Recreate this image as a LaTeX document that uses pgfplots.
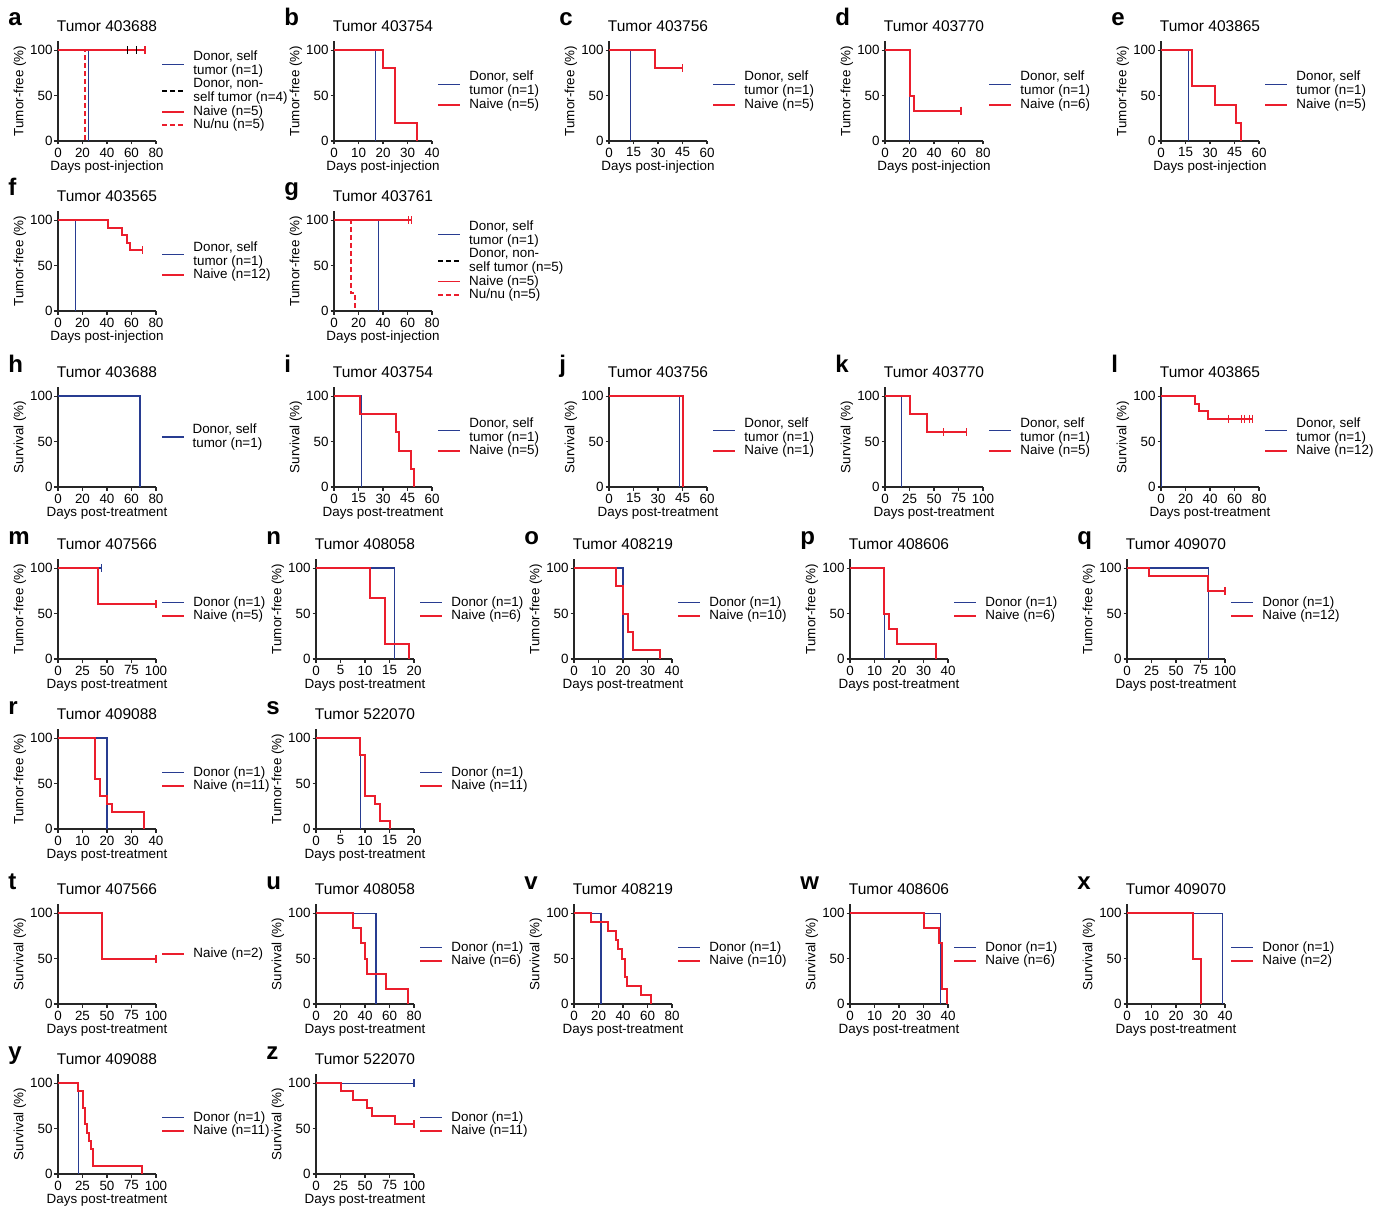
\documentclass[border=0pt]{standalone}
\usepackage{fontspec}
\setmainfont{Liberation Sans}
\usepackage{pgfplots}
\pgfplotsset{compat=1.18}
\definecolor{kb}{RGB}{40,60,145}
\definecolor{kr}{RGB}{235,30,45}
\newcommand\tf{\fontsize{6.7}{7}\selectfont}
\newcommand\ttf{\fontsize{7.75}{8}\selectfont}
\newcommand\lf{\fontsize{12}{12}\selectfont\bfseries}
\newcommand\ls{\rule[-1.9pt]{0pt}{7pt}}
\tikzset{lab/.style={anchor=base west, font=\lf, inner sep=0pt}}
\pgfplotsset{
 km/.style={
  scale only axis, width=49pt, height=50pt,
  xmin=0, ymin=0, ymax=110, ytick={0,50,100},
  axis lines=left, axis line style={-, line width=0.55pt, black!85},
  tick style={line width=0.55pt, black!85},
  tick align=outside, major tick length=1.75pt,
  clip=false, const plot,
  /pgf/number format/assume math mode=true,
  ticklabel style={font=\tf, inner sep=0pt},
  xticklabel style={anchor=north, yshift=-1.4pt},
  yticklabel style={anchor=east, xshift=-0.75pt},
  every axis x label/.style={at={(axis description cs:0.5,0)}, anchor=base, yshift=-14.7pt, font=\tf, inner sep=0pt},
  every axis y label/.style={at={(axis description cs:-0.388,0.5)}, anchor=center, rotate=90, font=\tf, inner sep=0pt},
  every axis title/.style={at={(axis description cs:0.5,1)}, anchor=base, yshift=4.75pt, font=\ttf, inner sep=0pt},
  legend style={at={(axis description cs:1,0.5)}, anchor=west, xshift=2.5pt, draw=none, fill=none, inner sep=0pt, row sep=0pt, column sep=4pt, font=\tf, nodes={inner sep=0pt, align=left}},
  legend cell align=left,
  legend image code/.code={\draw[#1] (0pt,0pt) -- (11pt,0pt);},
 },
 B/.style={color=kb, line width=0.6pt},
 R/.style={color=kr, line width=1pt},
 RT/.style={color=kr, line width=0.6pt},
 K/.style={color=black, line width=0.9pt, dash pattern=on 2.5pt off 1.5pt},
 RD/.style={color=kr, line width=0.75pt, dash pattern=on 2.5pt off 1.5pt},
 cen/.style={only marks, mark=|, mark size=2pt, forget plot, mark options={solid, line width=0.6pt}},
}
\begin{document}
\begin{tikzpicture}
\useasboundingbox (0,0) rectangle (690pt,-604.5pt);
% ---------------- Row 1
\begin{axis}[km, anchor=south west, at={(29pt,-70.5pt)}, xmax=80, xtick={0,20,...,80}, title={Tumor 403688}, ylabel={Tumor-free (\%)}, xlabel={Days post-injection}]
\addplot[B] coordinates {(0,100)(25,0)}; \addlegendentry{\ls Donor, self\\\ls tumor (n=1)}
\addplot[K] coordinates {(0,100)(64,100)}; \addlegendentry{\ls Donor, non-\\\ls self tumor (n=4)}
\addplot[R] coordinates {(0,100)(71,100)}; \addlegendentry{\ls Naive (n=5)}
\addplot[RD] coordinates {(0,100)(22,0)}; \addlegendentry{\ls Nu/nu (n=5)}
\addplot[cen, black] coordinates {(57,100)(64,100)};
\addplot[cen, kr] coordinates {(71,100)};
\node[lab] at ([shift={(-25pt,7.5pt)}]axis description cs:0,1) {a};
\end{axis}
\begin{axis}[km, anchor=south west, at={(167pt,-70.5pt)}, xmax=40, xtick={0,10,...,40}, title={Tumor 403754}, ylabel={Tumor-free (\%)}, xlabel={Days post-injection}]
\addplot[B] coordinates {(0,100)(17,0)}; \addlegendentry{\ls Donor, self\\\ls tumor (n=1)}
\addplot[R] coordinates {(0,100)(20,80)(25,20)(34,0)}; \addlegendentry{\ls Naive (n=5)}
\node[lab] at ([shift={(-25pt,7.5pt)}]axis description cs:0,1) {b};
\end{axis}
\begin{axis}[km, anchor=south west, at={(304.5pt,-70.5pt)}, xmax=60, xtick={0,15,...,60}, title={Tumor 403756}, ylabel={Tumor-free (\%)}, xlabel={Days post-injection}]
\addplot[B] coordinates {(0,100)(13,0)}; \addlegendentry{\ls Donor, self\\\ls tumor (n=1)}
\addplot[R] coordinates {(0,100)(28,80)(45,80)}; \addlegendentry{\ls Naive (n=5)}
\addplot[cen, kr] coordinates {(45,80)};
\node[lab] at ([shift={(-25pt,7.5pt)}]axis description cs:0,1) {c};
\end{axis}
\begin{axis}[km, anchor=south west, at={(442.5pt,-70.5pt)}, xmax=80, xtick={0,20,...,80}, title={Tumor 403770}, ylabel={Tumor-free (\%)}, xlabel={Days post-injection}]
\addplot[B] coordinates {(0,100)(20,0)}; \addlegendentry{\ls Donor, self\\\ls tumor (n=1)}
\addplot[R] coordinates {(0,100)(20,50)(24,33.3)(62,33.3)}; \addlegendentry{\ls Naive (n=6)}
\addplot[cen, kr] coordinates {(62,33.3)};
\node[lab] at ([shift={(-25pt,7.5pt)}]axis description cs:0,1) {d};
\end{axis}
\begin{axis}[km, anchor=south west, at={(580.5pt,-70.5pt)}, xmax=60, xtick={0,15,...,60}, title={Tumor 403865}, ylabel={Tumor-free (\%)}, xlabel={Days post-injection}]
\addplot[B] coordinates {(0,100)(17,0)}; \addlegendentry{\ls Donor, self\\\ls tumor (n=1)}
\addplot[R] coordinates {(0,100)(19,60)(33,40)(46,20)(49,0)}; \addlegendentry{\ls Naive (n=5)}
\node[lab] at ([shift={(-25pt,7.5pt)}]axis description cs:0,1) {e};
\end{axis}
% ---------------- Row 2
\begin{axis}[km, anchor=south west, at={(29pt,-155.5pt)}, xmax=80, xtick={0,20,...,80}, title={Tumor 403565}, ylabel={Tumor-free (\%)}, xlabel={Days post-injection}]
\addplot[B] coordinates {(0,100)(14,0)}; \addlegendentry{\ls Donor, self\\\ls tumor (n=1)}
\addplot[R] coordinates {(0,100)(41,91.7)(52,83.3)(56,75)(59,66.7)(69,66.7)}; \addlegendentry{\ls Naive (n=12)}
\addplot[cen, kr] coordinates {(69,66.7)};
\node[lab] at ([shift={(-25pt,7.5pt)}]axis description cs:0,1) {f};
\end{axis}
\begin{axis}[km, anchor=south west, at={(167pt,-155.5pt)}, xmax=80, xtick={0,20,...,80}, title={Tumor 403761}, ylabel={Tumor-free (\%)}, xlabel={Days post-injection}]
\addplot[B] coordinates {(0,100)(36,0)}; \addlegendentry{\ls Donor, self\\\ls tumor (n=1)}
\addplot[K] coordinates {(0,100)(61,100)}; \addlegendentry{\ls Donor, non-\\\ls self tumor (n=5)}
\addplot[RT] coordinates {(0,100)(63,100)}; \addlegendentry{\ls Naive (n=5)}
\addplot[RD] coordinates {(0,100)(14,20)(17,0)}; \addlegendentry{\ls Nu/nu (n=5)}
\addplot[cen, kr] coordinates {(61,100)(63,100)};
\node[lab] at ([shift={(-25pt,7.5pt)}]axis description cs:0,1) {g};
\end{axis}
% ---------------- Row 3
\begin{axis}[km, anchor=south west, at={(29pt,-243.5pt)}, xmax=80, xtick={0,20,...,80}, title={Tumor 403688}, ylabel={Survival (\%)}, xlabel={Days post-treatment}]
\addplot[B] coordinates {(0,100)(67,0)}; \addlegendentry{\ls Donor, self\\\ls tumor (n=1)}
\node[lab] at ([shift={(-25pt,7.5pt)}]axis description cs:0,1) {h};
\end{axis}
\begin{axis}[km, anchor=south west, at={(167pt,-243.5pt)}, xmax=60, xtick={0,15,...,60}, title={Tumor 403754}, ylabel={Survival (\%)}, xlabel={Days post-treatment}]
\addplot[B] coordinates {(0,100)(17,0)}; \addlegendentry{\ls Donor, self\\\ls tumor (n=1)}
\addplot[R] coordinates {(0,100)(16,80)(38,60)(40,40)(47,20)(49,0)}; \addlegendentry{\ls Naive (n=5)}
\node[lab] at ([shift={(-25pt,7.5pt)}]axis description cs:0,1) {i};
\end{axis}
\begin{axis}[km, anchor=south west, at={(304.5pt,-243.5pt)}, xmax=60, xtick={0,15,...,60}, title={Tumor 403756}, ylabel={Survival (\%)}, xlabel={Days post-treatment}]
\addplot[B] coordinates {(0,100)(43,0)}; \addlegendentry{\ls Donor, self\\\ls tumor (n=1)}
\addplot[R] coordinates {(0,100)(45,0)}; \addlegendentry{\ls Naive (n=1)}
\node[lab] at ([shift={(-25pt,7.5pt)}]axis description cs:0,1) {j};
\end{axis}
\begin{axis}[km, anchor=south west, at={(442.5pt,-243.5pt)}, xmax=100, xtick={0,25,...,100}, title={Tumor 403770}, ylabel={Survival (\%)}, xlabel={Days post-treatment}]
\addplot[B] coordinates {(0,100)(17,0)}; \addlegendentry{\ls Donor, self\\\ls tumor (n=1)}
\addplot[R] coordinates {(0,100)(26,80)(43,60)(83,60)}; \addlegendentry{\ls Naive (n=5)}
\addplot[cen, kr] coordinates {(60,60)(83,60)};
\node[lab] at ([shift={(-25pt,7.5pt)}]axis description cs:0,1) {k};
\end{axis}
\begin{axis}[km, anchor=south west, at={(580.5pt,-243.5pt)}, xmax=80, xtick={0,20,...,80}, title={Tumor 403865}, ylabel={Survival (\%)}, xlabel={Days post-treatment}]
\addplot[B] coordinates {(0,100)(0.7,0)}; \addlegendentry{\ls Donor, self\\\ls tumor (n=1)}
\addplot[R] coordinates {(0,100)(28,91.7)(31,83.3)(38,75)(75,75)}; \addlegendentry{\ls Naive (n=12)}
\addplot[cen, kr] coordinates {(55,75)(66,75)(68,75)(72,75)(75,75)};
\node[lab] at ([shift={(-25pt,7.5pt)}]axis description cs:0,1) {l};
\end{axis}
% ---------------- Row 4
\begin{axis}[km, anchor=south west, at={(29pt,-329.5pt)}, xmax=100, xtick={0,25,...,100}, title={Tumor 407566}, ylabel={Tumor-free (\%)}, xlabel={Days post-treatment}]
\addplot[B] coordinates {(0,100)(44,100)}; \addlegendentry{\ls Donor (n=1)}
\addplot[R] coordinates {(0,100)(41,60)(100,60)}; \addlegendentry{\ls Naive (n=5)}
\addplot[cen, kb] coordinates {(44,100)};
\addplot[cen, kr] coordinates {(100,60)};
\node[lab] at ([shift={(-25pt,7.5pt)}]axis description cs:0,1) {m};
\end{axis}
\begin{axis}[km, anchor=south west, at={(158pt,-329.5pt)}, xmax=20, xtick={0,5,...,20}, title={Tumor 408058}, ylabel={Tumor-free (\%)}, xlabel={Days post-treatment}]
\addplot[B] coordinates {(0,100)(16,0)}; \addlegendentry{\ls Donor (n=1)}
\addplot[R] coordinates {(0,100)(11,66.7)(14,16.7)(19,0)}; \addlegendentry{\ls Naive (n=6)}
\node[lab] at ([shift={(-25pt,7.5pt)}]axis description cs:0,1) {n};
\end{axis}
\begin{axis}[km, anchor=south west, at={(287pt,-329.5pt)}, xmax=40, xtick={0,10,...,40}, title={Tumor 408219}, ylabel={Tumor-free (\%)}, xlabel={Days post-treatment}]
\addplot[B] coordinates {(0,100)(20,0)}; \addlegendentry{\ls Donor (n=1)}
\addplot[R] coordinates {(0,100)(17,80)(20,50)(22,30)(24,10)(35,0)}; \addlegendentry{\ls Naive (n=10)}
\node[lab] at ([shift={(-25pt,7.5pt)}]axis description cs:0,1) {o};
\end{axis}
\begin{axis}[km, anchor=south west, at={(425pt,-329.5pt)}, xmax=40, xtick={0,10,...,40}, title={Tumor 408606}, ylabel={Tumor-free (\%)}, xlabel={Days post-treatment}]
\addplot[B] coordinates {(0,100)(14,0)}; \addlegendentry{\ls Donor (n=1)}
\addplot[R] coordinates {(0,100)(14,50)(16,33.3)(19,16.7)(35,0)}; \addlegendentry{\ls Naive (n=6)}
\node[lab] at ([shift={(-25pt,7.5pt)}]axis description cs:0,1) {p};
\end{axis}
\begin{axis}[km, anchor=south west, at={(563.5pt,-329.5pt)}, xmax=100, xtick={0,25,...,100}, title={Tumor 409070}, ylabel={Tumor-free (\%)}, xlabel={Days post-treatment}]
\addplot[B] coordinates {(0,100)(83,0)}; \addlegendentry{\ls Donor (n=1)}
\addplot[R] coordinates {(0,100)(22,91.7)(83,75)(100,75)}; \addlegendentry{\ls Naive (n=12)}
\addplot[cen, kr] coordinates {(100,75)};
\node[lab] at ([shift={(-25pt,7.5pt)}]axis description cs:0,1) {q};
\end{axis}
% ---------------- Row 5
\begin{axis}[km, anchor=south west, at={(29pt,-414.5pt)}, xmax=40, xtick={0,10,...,40}, title={Tumor 409088}, ylabel={Tumor-free (\%)}, xlabel={Days post-treatment}]
\addplot[B] coordinates {(0,100)(20,0)}; \addlegendentry{\ls Donor (n=1)}
\addplot[R] coordinates {(0,100)(15,54.5)(17,36.4)(20,27.3)(22,18.2)(35,0)}; \addlegendentry{\ls Naive (n=11)}
\node[lab] at ([shift={(-25pt,7.5pt)}]axis description cs:0,1) {r};
\end{axis}
\begin{axis}[km, anchor=south west, at={(158pt,-414.5pt)}, xmax=20, xtick={0,5,...,20}, title={Tumor 522070}, ylabel={Tumor-free (\%)}, xlabel={Days post-treatment}]
\addplot[B] coordinates {(0,100)(9,0)}; \addlegendentry{\ls Donor (n=1)}
\addplot[R] coordinates {(0,100)(9,81.8)(10,36.4)(12,27.3)(13,9.1)(15,0)}; \addlegendentry{\ls Naive (n=11)}
\node[lab] at ([shift={(-25pt,7.5pt)}]axis description cs:0,1) {s};
\end{axis}
% ---------------- Row 6
\begin{axis}[km, anchor=south west, at={(29pt,-502pt)}, xmax=100, xtick={0,25,...,100}, title={Tumor 407566}, ylabel={Survival (\%)}, xlabel={Days post-treatment}]
\addplot[R] coordinates {(0,100)(45,50)(100,50)}; \addlegendentry{\ls Naive (n=2)}
\addplot[cen, kr] coordinates {(100,50)};
\node[lab] at ([shift={(-25pt,7.5pt)}]axis description cs:0,1) {t};
\end{axis}
\begin{axis}[km, anchor=south west, at={(158pt,-502pt)}, xmax=80, xtick={0,20,...,80}, title={Tumor 408058}, ylabel={Survival (\%)}, xlabel={Days post-treatment}]
\addplot[B] coordinates {(0,100)(49,0)}; \addlegendentry{\ls Donor (n=1)}
\addplot[R] coordinates {(0,100)(30,83.3)(37,66.7)(40,50)(42,33.3)(57,16.7)(75,0)}; \addlegendentry{\ls Naive (n=6)}
\node[lab] at ([shift={(-25pt,7.5pt)}]axis description cs:0,1) {u};
\end{axis}
\begin{axis}[km, anchor=south west, at={(287pt,-502pt)}, xmax=80, xtick={0,20,...,80}, title={Tumor 408219}, ylabel={Survival (\%)}, xlabel={Days post-treatment}]
\addplot[B] coordinates {(0,100)(22,0)}; \addlegendentry{\ls Donor (n=1)}
\addplot[R] coordinates {(0,100)(14,90)(28,80)(34,70)(36,60)(39,50)(42,30)(43,20)(55,10)(63,0)}; \addlegendentry{\ls Naive (n=10)}
\node[lab] at ([shift={(-25pt,7.5pt)}]axis description cs:0,1) {v};
\end{axis}
\begin{axis}[km, anchor=south west, at={(425pt,-502pt)}, xmax=40, xtick={0,10,...,40}, title={Tumor 408606}, ylabel={Survival (\%)}, xlabel={Days post-treatment}]
\addplot[B] coordinates {(0,100)(37,0)}; \addlegendentry{\ls Donor (n=1)}
\addplot[R] coordinates {(0,100)(30,83.3)(36.5,66.7)(37.5,16.7)(39.5,0)}; \addlegendentry{\ls Naive (n=6)}
\node[lab] at ([shift={(-25pt,7.5pt)}]axis description cs:0,1) {w};
\end{axis}
\begin{axis}[km, anchor=south west, at={(563.5pt,-502pt)}, xmax=40, xtick={0,10,...,40}, title={Tumor 409070}, ylabel={Survival (\%)}, xlabel={Days post-treatment}]
\addplot[B] coordinates {(0,100)(39,0)}; \addlegendentry{\ls Donor (n=1)}
\addplot[R] coordinates {(0,100)(27,50)(30,0)}; \addlegendentry{\ls Naive (n=2)}
\node[lab] at ([shift={(-25pt,7.5pt)}]axis description cs:0,1) {x};
\end{axis}
% ---------------- Row 7
\begin{axis}[km, anchor=south west, at={(29pt,-587pt)}, xmax=100, xtick={0,25,...,100}, title={Tumor 409088}, ylabel={Survival (\%)}, xlabel={Days post-treatment}]
\addplot[B] coordinates {(0,100)(21,0)}; \addlegendentry{\ls Donor (n=1)}
\addplot[R] coordinates {(0,100)(20,90.9)(26,72.7)(27.5,54.5)(30,45.5)(32,36.4)(33.5,27.3)(36,9.1)(86,0)}; \addlegendentry{\ls Naive (n=11)}
\node[lab] at ([shift={(-25pt,7.5pt)}]axis description cs:0,1) {y};
\end{axis}
\begin{axis}[km, anchor=south west, at={(158pt,-587pt)}, xmax=100, xtick={0,25,...,100}, title={Tumor 522070}, ylabel={Survival (\%)}, xlabel={Days post-treatment}]
\addplot[B] coordinates {(0,100)(100,100)}; \addlegendentry{\ls Donor (n=1)}
\addplot[R] coordinates {(0,100)(25,90.9)(38,81.8)(52,72.7)(57,63.6)(81,54.5)(100,54.5)}; \addlegendentry{\ls Naive (n=11)}
\addplot[cen, kb] coordinates {(100,100)};
\addplot[cen, kr] coordinates {(100,54.5)};
\node[lab] at ([shift={(-25pt,7.5pt)}]axis description cs:0,1) {z};
\end{axis}
\end{tikzpicture}
\end{document}
